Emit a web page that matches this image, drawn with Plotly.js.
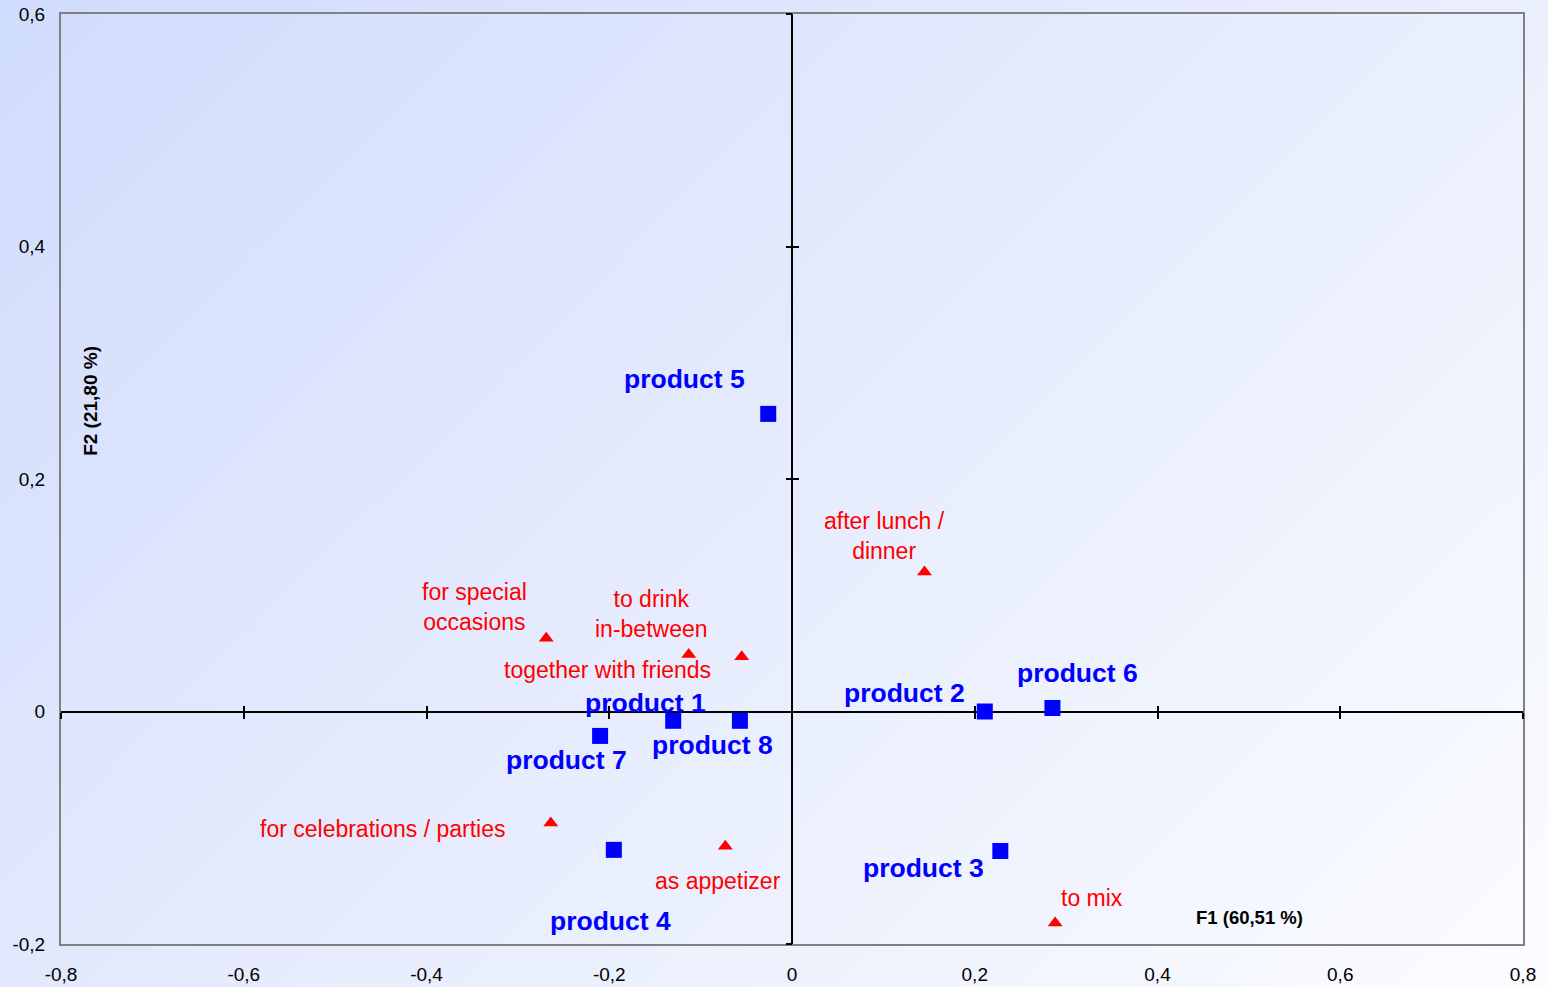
<!DOCTYPE html>
<html>
<head>
<meta charset="utf-8">
<script src="https://cdn.plot.ly/plotly-3.0.1.min.js"></script>
<style>
  html, body { margin: 0; padding: 0; }
  #chart {
    width: 1548px; height: 987px;
    background: linear-gradient(135deg, #d0dcfd 0%, #e6ecfd 50%, #fbfcff 100%);
  }
</style>
</head>
<body>
<div id="chart"></div>
<script>
// ---- data ----
const productNames = ['product 1', 'product 2', 'product 3', 'product 4', 'product 5', 'product 6', 'product 7', 'product 8'];
const productF1 = [-0.130, 0.211, 0.228, -0.195, -0.026, 0.285, -0.210, -0.057];
const productF2 = [-0.008, 0.000, -0.120, -0.119, 0.256, 0.003, -0.021, -0.008];

const usageNames = ['for special<br>occasions', 'together with friends', 'to drink<br>in-between', 'after lunch /<br>dinner', 'for celebrations / parties', 'as appetizer', 'to mix'];
const usageF1 = [-0.269, -0.113, -0.055, 0.145, -0.264, -0.073, 0.288];
const usageF2 = [0.063, 0.049, 0.047, 0.120, -0.096, -0.116, -0.182];

const xTickVals = [-0.8, -0.6, -0.4, -0.2, 0, 0.2, 0.4, 0.6, 0.8];
const xTickText = ['-0,8', '-0,6', '-0,4', '-0,2', '0', '0,2', '0,4', '0,6', '0,8'];
const yTickVals = [-0.2, 0, 0.2, 0.4, 0.6];
const yTickText = ['-0,2', '0', '0,2', '0,4', '0,6'];
const crossXTicks = [-0.8, -0.6, -0.4, -0.2, 0.2, 0.4, 0.6, 0.8];
const crossYTicks = [-0.2, 0.2, 0.4, 0.6];

const xTitle = 'F1 (60,51 %)';
const yTitle = 'F2 (21,80 %)';

// ---- label offsets (pixels, style only) ----
const productLabelOffsets = [[-28, -18], [-80, -19], [-77, 17], [-3, 71], [-84, -35], [25, -35], [-34, 24], [-27, 24]];
const usageLabelOffsets = [[-72, -31], [-81, 15], [-90, -43], [-40, -36], [-168, 6], [-7, 35], [37, -25]];

const xRange = [-0.8, 0.8];
const yRange = [-0.2, 0.6];
const font = 'Liberation Sans, Arial, sans-serif';

const traces = [
  {
    x: usageF1, y: usageF2, type: 'scatter', mode: 'markers',
    marker: { symbol: 'triangle-up', size: 13, color: '#ff0000' },
    showlegend: false, hoverinfo: 'skip'
  },
  {
    x: productF1, y: productF2, type: 'scatter', mode: 'markers',
    marker: { symbol: 'square', size: 16, color: '#0000ff' },
    showlegend: false, hoverinfo: 'skip'
  },
  { x: [null], y: [null], xaxis: 'x2', yaxis: 'y', type: 'scatter', mode: 'markers', showlegend: false, hoverinfo: 'skip' },
  { x: [null], y: [null], xaxis: 'x3', yaxis: 'y', type: 'scatter', mode: 'markers', showlegend: false, hoverinfo: 'skip' },
  { x: [null], y: [null], xaxis: 'x', yaxis: 'y2', type: 'scatter', mode: 'markers', showlegend: false, hoverinfo: 'skip' },
  { x: [null], y: [null], xaxis: 'x', yaxis: 'y3', type: 'scatter', mode: 'markers', showlegend: false, hoverinfo: 'skip' }
];

const annotations = [];
productNames.forEach((n, i) => {
  annotations.push({
    x: productF1[i], y: productF2[i], xref: 'x', yref: 'y', text: n, showarrow: false,
    xanchor: 'center', yanchor: 'middle',
    xshift: productLabelOffsets[i][0], yshift: -productLabelOffsets[i][1],
    font: { family: font, size: 26.5, color: '#0000ff', weight: 'bold' }
  });
});
usageNames.forEach((n, i) => {
  annotations.push({
    x: usageF1[i], y: usageF2[i], xref: 'x', yref: 'y', text: n, showarrow: false,
    xanchor: 'center', yanchor: 'middle',
    xshift: usageLabelOffsets[i][0], yshift: -usageLabelOffsets[i][1],
    font: { family: font, size: 23, color: '#ff0000' }
  });
});
annotations.push({
  x: 0.8126, y: 0.028, xref: 'paper', yref: 'paper', text: '<b>' + xTitle + '</b>', showarrow: false,
  xanchor: 'center', yanchor: 'middle', font: { family: font, size: 18.5, color: '#000000' }
});
annotations.push({
  x: 0.0205, y: 0.584, xref: 'paper', yref: 'paper', text: '<b>' + yTitle + '</b>', showarrow: false,
  textangle: -90, xanchor: 'center', yanchor: 'middle', font: { family: font, size: 19, color: '#000000' }
});

const crossAxisX = (dir) => ({
  overlaying: 'x', anchor: 'free', position: 0.25, range: xRange, side: 'bottom',
  tickmode: 'array', tickvals: crossXTicks, showticklabels: false,
  ticks: dir, ticklen: 6, tickwidth: 2, tickcolor: '#000000',
  showline: false, showgrid: false, zeroline: false, fixedrange: true
});
const crossAxisY = (dir) => ({
  overlaying: 'y', anchor: 'free', position: 0.5, range: yRange, side: 'left',
  tickmode: 'array', tickvals: crossYTicks, showticklabels: false,
  ticks: dir, ticklen: 6, tickwidth: 2, tickcolor: '#000000',
  showline: false, showgrid: false, zeroline: false, fixedrange: true
});

const layout = {
  width: 1548, height: 987,
  margin: { l: 61, r: 25, t: 14, b: 43 },
  paper_bgcolor: 'rgba(0,0,0,0)',
  plot_bgcolor: 'rgba(0,0,0,0)',
  font: { family: font, size: 19, color: '#000000' },
  showlegend: false,
  xaxis: {
    range: xRange, tickmode: 'array', tickvals: xTickVals, ticktext: xTickText,
    showgrid: false, zeroline: true, zerolinecolor: '#000000', zerolinewidth: 2,
    showline: true, linecolor: '#808080', linewidth: 2, mirror: true,
    ticks: '', ticklabelstandoff: 12, fixedrange: true,
    tickfont: { family: font, size: 19, color: '#000000' }
  },
  yaxis: {
    range: yRange, tickmode: 'array', tickvals: yTickVals, ticktext: yTickText,
    showgrid: false, zeroline: true, zerolinecolor: '#000000', zerolinewidth: 2,
    showline: true, linecolor: '#808080', linewidth: 2, mirror: true,
    ticks: '', ticklabelstandoff: 10, fixedrange: true,
    tickfont: { family: font, size: 19, color: '#000000' }
  },
  xaxis2: crossAxisX('outside'),
  xaxis3: crossAxisX('inside'),
  yaxis2: crossAxisY('outside'),
  yaxis3: crossAxisY('inside'),
  annotations: annotations
};

Plotly.newPlot('chart', traces, layout, { displayModeBar: false, staticPlot: true });
</script>
</body>
</html>
